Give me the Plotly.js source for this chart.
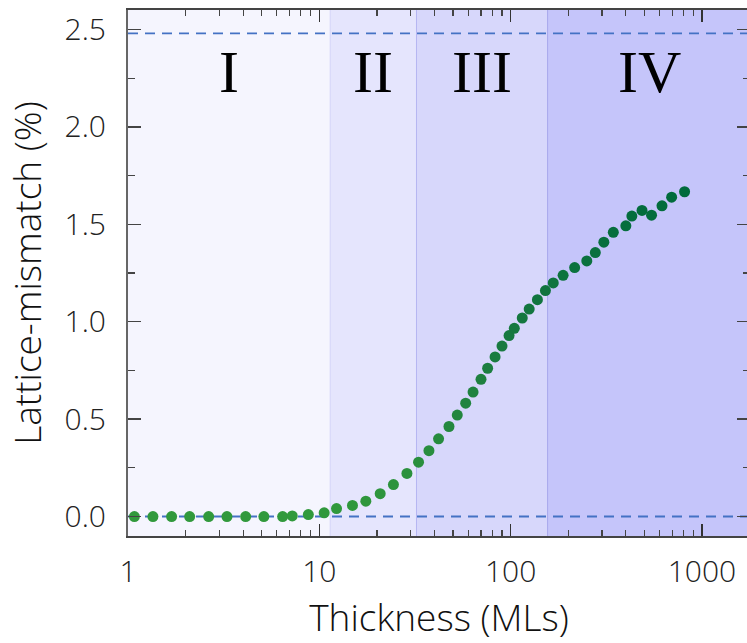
<!DOCTYPE html>
<html>
<head>
<meta charset="utf-8">
<script src="https://cdn.plot.ly/plotly-3.0.1.min.js"></script>
<style>
  html, body { margin: 0; padding: 0; background: #fff; overflow: hidden; }
  #wrap { width: 747px; height: 643px; overflow: hidden; }
  #chart { width: 750px; height: 643px; }
</style>
</head>
<body>
<div id="wrap"><div id="chart"></div></div>
<script>
// Thickness (MLs) and lattice mismatch (%)
const thickness = [1.08, 1.35, 1.69, 2.10, 2.64, 3.29, 4.12, 5.13, 6.43, 7.22, 8.76, 10.6,
  12.3, 14.9, 17.5, 20.8, 24.4, 28.7, 33.0, 37.4, 42.0, 47.6, 52.6, 58.2, 63.6, 70.0,
  75.8, 82.9, 90.1, 98.1, 104.5, 115, 125, 138, 152, 167, 188, 216, 250, 277, 307, 344,
  400, 430, 486, 545, 618, 694, 811];
const mismatch = [0, 0, 0, 0, 0, 0, 0, 0, 0, 0.003, 0.01, 0.019,
  0.041, 0.057, 0.079, 0.117, 0.164, 0.221, 0.279, 0.338, 0.399, 0.462, 0.521, 0.582, 0.639, 0.704,
  0.761, 0.819, 0.875, 0.929, 0.966, 1.019, 1.065, 1.113, 1.160, 1.199, 1.238, 1.278, 1.312, 1.355, 1.408, 1.459,
  1.492, 1.542, 1.571, 1.547, 1.595, 1.639, 1.667];

// Regime boundaries (MLs) and labels
const regionEdges = [1, 11.4, 32.2, 156, 1800];
const regionLabels = ['I', 'II', 'III', 'IV'];
const regionColors = ['#f5f5fe', '#e5e5fd', '#d7d7fb', '#c5c5fa'];
const regionBorders = ['rgba(0,0,0,0)', '#d4d4f8', '#b6b6f2', '#a6a6ec'];

// Reference lines (%)
const refLines = [0, 2.48];

const yTickVals = [0, 0.5, 1.0, 1.5, 2.0, 2.5];
const yTickText = ['0.0', '0.5', '1.0', '1.5', '2.0', '2.5'];
const xTickVals = [1, 10, 100, 1000];
const xTickText = ['1', '10', '100', '1000'];
const xMinorVals = [2, 3, 4, 5, 6, 7, 8, 9, 20, 30, 40, 50, 60, 70, 80, 90,
  200, 300, 400, 500, 600, 700, 800, 900];

const shapes = [];
for (let i = 0; i < regionLabels.length; i++) {
  shapes.push({
    type: 'rect', xref: 'x', yref: 'paper', layer: 'below',
    x0: regionEdges[i], x1: regionEdges[i + 1], y0: 0, y1: 1,
    fillcolor: regionColors[i], line: { width: 0 }
  });
  if (i > 0) {
    shapes.push({
      type: 'line', xref: 'x', yref: 'paper', layer: 'below',
      x0: regionEdges[i], x1: regionEdges[i], y0: 0, y1: 1,
      line: { color: regionBorders[i], width: 1 }
    });
  }
}
refLines.forEach(v => shapes.push({
  type: 'line', xref: 'paper', yref: 'y', layer: 'below',
  x0: 0, x1: 1, y0: v, y1: v,
  line: { color: '#4472c4', width: 1.8, dash: '10px,7px' }
}));

const annotations = regionLabels.map((t, i) => ({
  xref: 'x', yref: 'y',
  x: (Math.log10(regionEdges[i]) + Math.log10(regionEdges[i + 1])) / 2,
  y: 2.28, text: t, showarrow: false,
  font: { family: 'Liberation Serif, serif', size: 60, color: '#000' }
}));

const trace = {
  x: thickness, y: mismatch, type: 'scatter', mode: 'markers',
  marker: {
    size: 11, color: mismatch, cmin: 0, cmax: 1.67,
    colorscale: [[0, '#31993c'], [0.5, '#1a7b40'], [1, '#006a3c']],
    showscale: false, line: { width: 0 }
  },
  hoverinfo: 'x+y'
};

const tickFont = { family: 'Open Sans, sans-serif', size: 30, color: '#222', weight: 300 };
const titleFont = { family: 'Open Sans, sans-serif', size: 37, color: '#111', weight: 300 };

const layout = {
  width: 750, height: 643,
  margin: { l: 128, r: 0, t: 10, b: 107 },
  paper_bgcolor: '#fff', plot_bgcolor: '#fff',
  showlegend: false,
  xaxis: {
    type: 'log', range: [0, 3.251],
    tickvals: xTickVals, ticktext: xTickText,
    ticks: 'inside', ticklen: 12, tickwidth: 1.5, tickcolor: '#333',
    minor: { tickvals: xMinorVals, ticks: 'inside', ticklen: 6, tickwidth: 1.2, tickcolor: '#444', showgrid: false },
    showline: true, linecolor: '#444', linewidth: 2, mirror: 'ticks',
    showgrid: false, zeroline: false,
    tickfont: tickFont, ticklabelstandoff: 8,
    title: { text: 'Thickness (MLs)', font: titleFont, standoff: 14 }
  },
  yaxis: {
    range: [-0.1, 2.6],
    tickvals: yTickVals, ticktext: yTickText,
    ticks: 'inside', ticklen: 13, tickwidth: 1.5, tickcolor: '#444',
    minor: { dtick: 0.25, ticks: 'inside', ticklen: 7, tickwidth: 1.2, tickcolor: '#444', showgrid: false },
    showline: true, linecolor: '#666', linewidth: 2, mirror: 'ticks',
    showgrid: false, zeroline: false,
    tickfont: tickFont, ticklabelstandoff: 14,
    title: { text: 'Lattice-mismatch (%)', font: titleFont, standoff: 12 }
  },
  shapes: shapes,
  annotations: annotations
};

Plotly.newPlot('chart', [trace], layout, { displayModeBar: false, staticPlot: true });
</script>
</body>
</html>
